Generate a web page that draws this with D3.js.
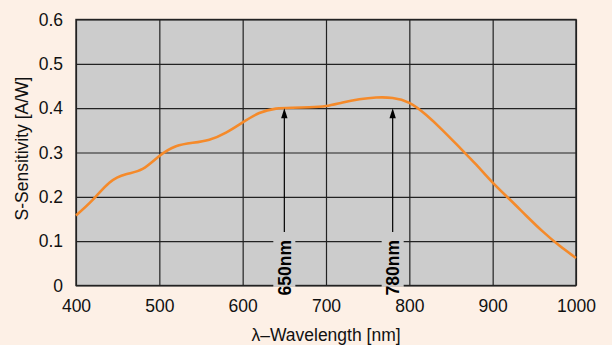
<!DOCTYPE html>
<html>
<head>
<meta charset="utf-8">
<script src="https://cdn.jsdelivr.net/npm/d3@7"></script>
<style>
  html, body { margin: 0; padding: 0; background: #fdf0e6; }
  svg { display: block; font-family: "Liberation Sans", Arial, sans-serif; }
</style>
</head>
<body>
<svg id="chart" width="612" height="345"></svg>
<script>
const wavelengths = [400, 420, 440, 460, 480, 500, 520, 540, 560, 580, 600, 620, 640, 660, 680, 700, 720, 740, 760, 780, 800, 820, 840, 860, 880, 900, 920, 940, 960, 980, 1000];
const sensitivity = [0.158, 0.193, 0.232, 0.251, 0.263, 0.292, 0.314, 0.322, 0.329, 0.345, 0.368, 0.389, 0.399, 0.401, 0.402, 0.405, 0.413, 0.420, 0.424, 0.423, 0.412, 0.385, 0.350, 0.312, 0.273, 0.232, 0.195, 0.158, 0.122, 0.090, 0.062];
const xTicks = [400, 500, 600, 700, 800, 900, 1000];
const yTicks = [0, 0.1, 0.2, 0.3, 0.4, 0.5, 0.6];
const markerNm = [650, 780];
const markerLabels = ["650nm", "780nm"];
const markerValue = 0.4;
const xTitle = "λ–Wavelength [nm]";
const yTitle = "S-Sensitivity [A/W]";

const W = 612, H = 345;
const plot = { left: 76, right: 576, top: 19.5, bottom: 285.5 };
const svg = d3.select("#chart");
svg.append("rect").attr("width", W).attr("height", H).attr("fill", "#fdf0e6");

const x = d3.scaleLinear().domain([400, 1000]).range([plot.left, plot.right]);
const y = d3.scaleLinear().domain([0, 0.6]).range([plot.bottom, plot.top]);

svg.append("rect")
  .attr("x", plot.left).attr("y", plot.top)
  .attr("width", plot.right - plot.left).attr("height", plot.bottom - plot.top)
  .attr("fill", "#cccccc");

// grid
const gx = svg.append("g")
  .attr("transform", `translate(0,${plot.bottom})`)
  .call(d3.axisBottom(x).tickValues(xTicks).tickSize(-(plot.bottom - plot.top)).tickFormat(d3.format("d")).tickPadding(14));
gx.select(".domain").remove();
gx.selectAll(".tick line").attr("stroke", "#222").attr("stroke-width", 1.2);
gx.selectAll(".tick text").attr("font-size", 17.5).attr("fill", "#111")
  .attr("font-family", "'Liberation Sans', Arial, sans-serif");

const gy = svg.append("g")
  .attr("transform", `translate(${plot.left},0)`)
  .call(d3.axisLeft(y).tickValues(yTicks).tickSize(-(plot.right - plot.left)).tickFormat(d => d === 0 ? "0" : d3.format(".1f")(d)).tickPadding(13));
gy.select(".domain").remove();
gy.selectAll(".tick line").attr("stroke", "#222").attr("stroke-width", 1.2);
gy.selectAll(".tick text").attr("font-size", 17.5).attr("fill", "#111")
  .attr("font-family", "'Liberation Sans', Arial, sans-serif");

// plot border
svg.append("rect")
  .attr("x", plot.left).attr("y", plot.top)
  .attr("width", plot.right - plot.left).attr("height", plot.bottom - plot.top)
  .attr("fill", "none").attr("stroke", "#222").attr("stroke-width", 1.4);

// curve
const pts = wavelengths.map((w, i) => [w, sensitivity[i]]);
svg.append("path")
  .datum(pts)
  .attr("fill", "none")
  .attr("stroke", "#f58a2a")
  .attr("stroke-width", 2.6)
  .attr("stroke-linejoin", "round")
  .attr("d", d3.line().x(d => x(d[0])).y(d => y(d[1])).curve(d3.curveNatural));

// markers
markerNm.forEach((nm, i) => {
  const mx = x(nm);
  const textBottom = plot.bottom + 10;
  const textTop = 234;
  svg.append("rect").attr("x", mx - 11).attr("y", textTop - 1)
    .attr("width", 22).attr("height", plot.bottom - textTop + 2).attr("fill", "#cccccc");
  svg.append("rect").attr("x", mx - 11).attr("y", plot.bottom + 1)
    .attr("width", 22).attr("height", 12).attr("fill", "#fdf0e6");
  svg.append("line")
    .attr("x1", mx).attr("x2", mx)
    .attr("y1", y(markerValue) + 8).attr("y2", textTop - 2)
    .attr("stroke", "#000").attr("stroke-width", 1.2);
  const tip = y(markerValue);
  svg.append("path")
    .attr("d", `M${mx},${tip} L${mx - 3.2},${tip + 10} L${mx + 3.2},${tip + 10} Z`)
    .attr("fill", "#000");
  svg.append("text")
    .attr("transform", `translate(${mx},${textBottom}) rotate(-90)`)
    .attr("dy", "0.36em")
    .attr("text-anchor", "start")
    .attr("font-size", 17.5)
    .attr("font-weight", "bold")
    .attr("fill", "#000")
    .text(markerLabels[i]);
});

// axis titles
svg.append("text")
  .attr("x", (plot.left + plot.right) / 2)
  .attr("y", 340.5)
  .attr("text-anchor", "middle")
  .attr("font-size", 17.5)
  .attr("fill", "#111")
  .text(xTitle);

svg.append("text")
  .attr("transform", `translate(22,${(plot.top + plot.bottom) / 2 - 4}) rotate(-90)`)
  .attr("text-anchor", "middle")
  .attr("dy", "0.35em")
  .attr("font-size", 17.5)
  .attr("fill", "#111")
  .text(yTitle);
</script>
</body>
</html>
